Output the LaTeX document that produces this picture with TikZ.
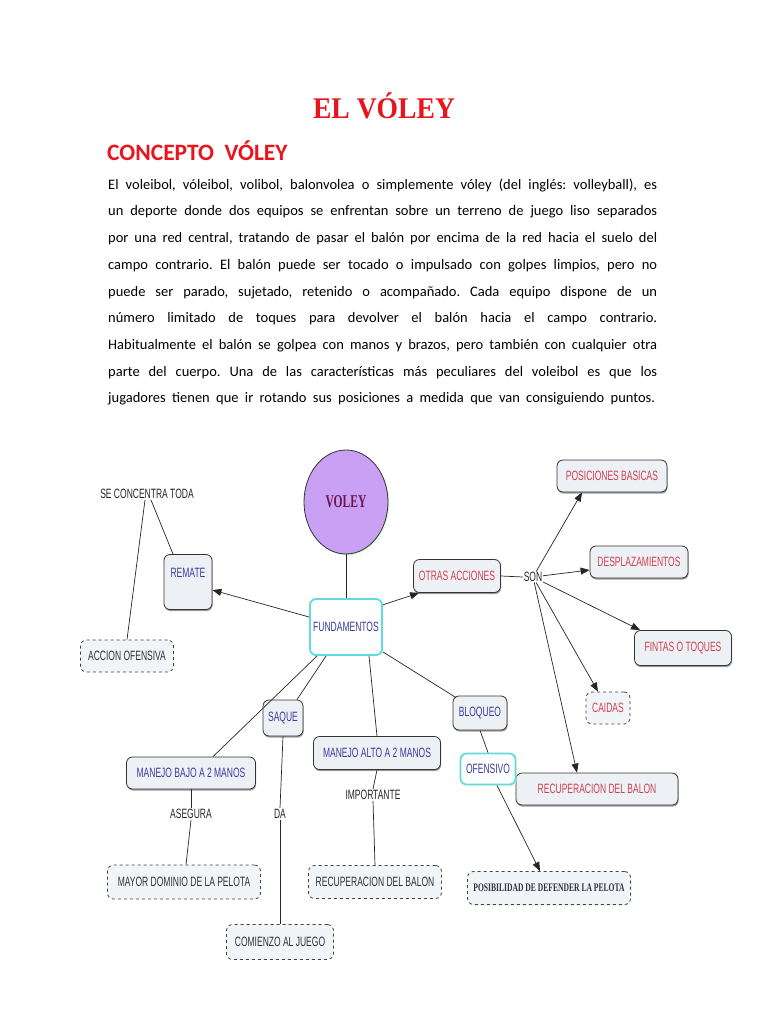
\documentclass[tikz,border=0pt]{standalone}
\usepackage{fontspec}
\setmainfont{Carlito}
\newfontfamily\dfont{Liberation Sans}
\newfontfamily\sfont{Liberation Serif}
\usetikzlibrary{arrows.meta,shapes.geometric,shadows}
\definecolor{titred}{HTML}{E8141E}
\definecolor{boxfill}{HTML}{EDF1F5}
\definecolor{bluetxt}{HTML}{3B3B9E}
\definecolor{redtxt}{HTML}{D0404E}
\definecolor{darktxt}{HTML}{303038}
\definecolor{voleyfill}{HTML}{C9A0F4}
\definecolor{voleytxt}{HTML}{6E1450}
\definecolor{glow}{HTML}{5EDCE2}
\newcommand\nt[1]{\scalebox{0.63}[1]{#1}}
\newcommand\bodyline[1]{\makebox[549pt][s]{#1}}
\frenchspacing
\tikzset{
  dnode/.style={font=\dfont\fontsize{13.5}{15}\selectfont, inner sep=1pt},
  solidbox/.style={dnode, rectangle, rounded corners=6pt, draw=black!80, line width=0.8pt, fill=boxfill,
     drop shadow={shadow xshift=0.6pt, shadow yshift=-1.6pt, fill=black!55, opacity=0.7}},
  dashbox/.style={dnode, rectangle, rounded corners=6pt, draw=black!75, line width=0.8pt, dashed, fill=boxfill!70},
  glowbox/.style={dnode, rectangle, rounded corners=6pt, draw=glow, line width=1.8pt, fill=white,
     drop shadow={shadow xshift=1.2pt, shadow yshift=-1.2pt, fill=yellow!40, opacity=0.8}},
  plaintxt/.style={dnode, text=black!85, fill=white},
  conn/.style={draw=black!85, line width=0.7pt},
  arr/.style={conn, -{Triangle[length=9pt,width=7pt]}},
  bodytxt/.style={anchor=west, inner sep=0pt, font=\fontsize{14.5}{17}\selectfont, text=black}
}
\begin{document}
\begin{tikzpicture}[x=1pt,y=-1pt]
\useasboundingbox[fill=white] (0,0) rectangle (768,1024);
% title
\node[font=\sfont\bfseries\fontsize{30}{32}\selectfont, text=titred] (title) at (384,106) {\scalebox{0.92}[1]{EL VÓLEY}};
\node[anchor=west, inner sep=0pt, font=\bfseries\fontsize{23.5}{26}\selectfont, text=titred] (head) at (107,151) {CONCEPTO\ \ VÓLEY};
% body
\node[bodytxt] (l1) at (108,185.5) {\bodyline{El voleibol, vóleibol, volibol, balonvolea o simplemente vóley (del inglés: volleyball), es}};
\node[bodytxt] (l2) at (108,212.2) {\bodyline{un deporte donde dos equipos se enfrentan sobre un terreno de juego liso separados}};
\node[bodytxt] (l3) at (108,238.9) {\bodyline{por una red central, tratando de pasar el balón por encima de la red hacia el suelo del}};
\node[bodytxt] (l4) at (108,265.6) {\bodyline{campo contrario. El balón puede ser tocado o impulsado con golpes limpios, pero no}};
\node[bodytxt] (l5) at (108,292.3) {\bodyline{puede ser parado, sujetado, retenido o acompañado. Cada equipo dispone de un}};
\node[bodytxt] (l6) at (108,319.0) {\bodyline{número limitado de toques para devolver el balón hacia el campo contrario.}};
\node[bodytxt] (l7) at (108,345.7) {\bodyline{Habitualmente el balón se golpea con manos y brazos, pero también con cualquier otra}};
\node[bodytxt] (l8) at (108,372.4) {\bodyline{parte del cuerpo. Una de las características más peculiares del voleibol es que los}};
\node[bodytxt] (l9) at (108,399.1) {\makebox[547pt][s]{jugadores tienen que ir rotando sus posiciones a medida que van consiguiendo puntos.}};

% ---------- concept map ----------
\node[ellipse, draw=black!80, line width=0.8pt, fill=voleyfill, minimum width=84pt, minimum height=104pt,
      drop shadow={shadow xshift=1.2pt, shadow yshift=-1.2pt, fill=green!25, opacity=0.8},
      font=\sfont\bfseries\fontsize{18}{20}\selectfont, text=voleytxt] (voley) at (346,502) {\scalebox{0.64}[1]{VOLEY}};
\node[glowbox, minimum width=72pt, minimum height=56pt, text=bluetxt] (fund) at (346,627) {\nt{FUNDAMENTOS}};
\node[solidbox, minimum width=48pt, minimum height=55pt, text=bluetxt, align=center] (remate) at (188,582) {\nt{REMATE}\\\rule{0pt}{17pt}};
\node[plaintxt] (se) at (147,494) {\nt{SE CONCENTRA TODA}};
\node[dashbox, minimum width=93pt, minimum height=32pt, text=darktxt] (accion) at (127,656) {\nt{ACCION OFENSIVA}};
\node[solidbox, minimum width=87pt, minimum height=33pt, text=redtxt] (otras) at (457,576) {\nt{OTRAS ACCIONES}};
\node[plaintxt, inner sep=0.5pt] (son) at (533,577) {\nt{SON}};
\node[solidbox, minimum width=110pt, minimum height=32pt, text=redtxt] (pos) at (612,476) {\nt{POSICIONES BASICAS}};
\node[solidbox, minimum width=98pt, minimum height=32pt, text=redtxt] (desp) at (639,562) {\nt{DESPLAZAMIENTOS}};
\node[solidbox, minimum width=97pt, minimum height=35pt, text=redtxt] (fintas) at (683,648) {\nt{FINTAS O TOQUES}};
\node[dashbox, minimum width=44pt, minimum height=32pt, text=redtxt] (caidas) at (608,708) {\nt{CAIDAS}};
\node[solidbox, minimum width=162pt, minimum height=32pt, text=redtxt] (recup) at (597,789) {\nt{RECUPERACION DEL BALON}};
\node[solidbox, minimum width=54pt, minimum height=34pt, text=bluetxt] (bloq) at (480,713) {\nt{BLOQUEO}};
\node[glowbox, minimum width=55pt, minimum height=31pt, text=bluetxt] (ofens) at (488,769) {\nt{OFENSIVO}};
\node[dashbox, minimum width=163pt, minimum height=33pt, text=darktxt, font=\sfont\bfseries\fontsize{11.5}{13}\selectfont,
      draw=black!75, drop shadow={shadow xshift=1pt, shadow yshift=-1.2pt, fill=green!20, opacity=0.7}] (posib) at (549,888) {\scalebox{0.66}[1]{POSIBILIDAD DE DEFENDER LA PELOTA}};
\node[solidbox, minimum width=40pt, minimum height=36pt, text=bluetxt] (saque) at (283,718) {\nt{SAQUE}};
\node[solidbox, minimum width=129pt, minimum height=32pt, text=bluetxt] (bajo) at (191,773) {\nt{MANEJO BAJO A 2 MANOS}};
\node[solidbox, minimum width=127pt, minimum height=33pt, text=bluetxt] (alto) at (377,753) {\nt{MANEJO ALTO A 2 MANOS}};
\node[plaintxt] (asegura) at (191,814) {\nt{ASEGURA}};
\node[plaintxt] (da) at (280,814) {\nt{DA}};
\node[plaintxt] (importante) at (373,795) {\nt{IMPORTANTE}};
\node[dashbox, minimum width=153pt, minimum height=34pt, text=darktxt] (mayor) at (184,882) {\nt{MAYOR DOMINIO DE LA PELOTA}};
\node[dashbox, minimum width=107pt, minimum height=35pt, text=darktxt] (comienzo) at (280,942) {\nt{COMIENZO AL JUEGO}};
\node[dashbox, minimum width=133pt, minimum height=33pt, text=darktxt] (recup2) at (375,882) {\nt{RECUPERACION DEL BALON}};

% connectors
\draw[conn] (voley.south) -- (fund.north);
\draw[arr] ([yshift=10pt]fund.west) -- ([yshift=-8pt]remate.east);
\draw[arr] (fund.31) -- (otras.204);
\draw[conn] (fund.-34) -- ([xshift=-24pt,yshift=-2pt]bloq.north);
\draw[conn] ([xshift=8pt]fund.south west) -- ([xshift=22pt]bajo.north);
\draw[conn] ([xshift=17pt]fund.south west) -- ([xshift=14pt]saque.north);
\draw[conn] ([xshift=23pt]fund.south) -- (alto.north);
\draw[conn] ([xshift=4pt]se.south) -- ([xshift=-15pt]remate.north);
\draw[conn] ([xshift=-2pt]se.south) -- (accion.north);
\draw[conn] (otras.east) -- (son.west);
\draw[arr] (son) -- ([xshift=-30pt]pos.south);
\draw[arr] (son) -- ([yshift=-8pt]desp.west);
\draw[arr] (son) -- ([xshift=6pt]fintas.north west);
\draw[arr] (son) -- ([xshift=-10pt]caidas.north);
\draw[arr] (son) -- ([xshift=-20pt]recup.north);
\draw[conn] (bloq.south) -- (ofens.north);
\draw[arr] ([xshift=9pt]ofens.south) -- ([xshift=-9pt]posib.north);
\draw[conn] (bajo.south) -- (asegura.north);
\draw[conn] (asegura.south) -- ([xshift=2pt]mayor.north);
\draw[conn] (saque.south) -- (da.north);
\draw[conn] (da.south) -- (comienzo.north);
\draw[conn] (alto.south) -- (importante.north);
\draw[conn] (importante.south) -- (recup2.north);
\end{tikzpicture}
\end{document}
